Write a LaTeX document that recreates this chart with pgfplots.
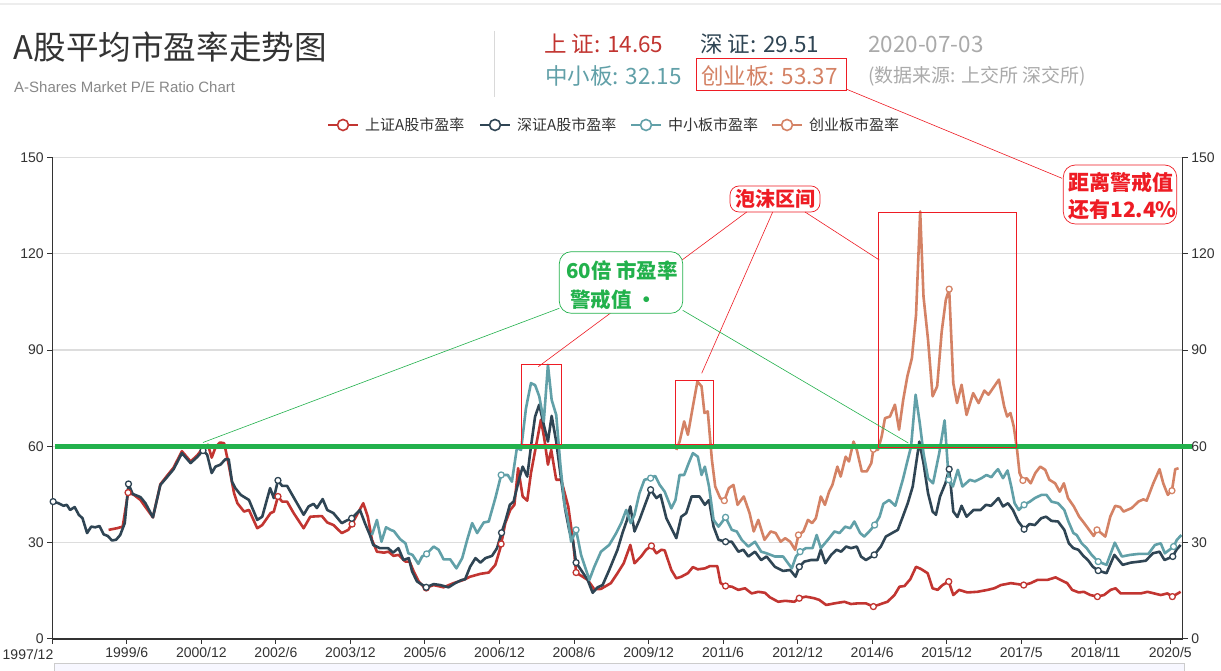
\documentclass[border=0pt]{standalone}
\usepackage{fontspec}
\setmainfont{Liberation Sans}
\newfontfamily\cjk{Noto Sans CJK SC}
\usepackage{pgfplots}
\pgfplotsset{compat=1.18}
\definecolor{cSH}{HTML}{C23531}
\definecolor{cSZ}{HTML}{2F4554}
\definecolor{cZX}{HTML}{61A0A8}
\definecolor{cCY}{HTML}{D48265}
\definecolor{cGreen}{HTML}{22B14C}
\definecolor{cRed}{HTML}{EE1C24}
\definecolor{cGrid}{HTML}{DDDDDD}
\definecolor{cAxis}{HTML}{333333}
\definecolor{cText}{HTML}{333333}
\definecolor{cGray}{HTML}{AAAAAA}
\definecolor{cSub}{HTML}{888888}
\newcommand{\fs}[1]{\fontsize{#1}{#1}\selectfont}
\pgfplotsset{
  mk/.style={only marks, mark=*, mark size=3pt, mark options={fill=white, line width=1.3pt}},
}
\begin{document}
\begin{tikzpicture}
\useasboundingbox (0,0) rectangle (1221pt,671pt);
\fill[white] (0,0) rectangle (1221pt,671pt);

\begin{axis}[
  at={(52.3pt,32pt)}, anchor=south west,
  scale only axis, width=1130.4pt, height=481.5pt,
  xmin=0, xmax=273, ymin=0, ymax=150,
  axis x line*=bottom, axis y line*=left,
  axis line style={cAxis, line width=1.2pt},
  ytick={0,30,60,90,120,150},
  xtick={0,18,...,270},
  xticklabels={,1999/6,2000/12,2002/6,2003/12,2005/6,2006/12,2008/6,2009/12,2011/6,2012/12,2014/6,2015/12,2017/5,2018/11,2020/5},
  ymajorgrids, grid style={cGrid, line width=1.3pt},
  tick align=outside, major tick length=5pt,
  tick style={cAxis, line width=1pt},
  /pgf/number format/assume math mode=true,
  ticklabel style={font=\fs{14}, text=cText},
  clip=false,
  every axis plot/.append style={line width=2.6pt, line join=round},
]
% 上证
\addplot[cSH, no marks] table[row sep=\\] {x y\\
13.6 34.0\\ 15.6 34.5\\ 17.0 35.0\\ 18.3 45.6\\ 19.7 44.9\\ 21.3 43.3\\ 22.5 41.1\\ 24.3 37.9\\ 26.1 48.2\\ 27.5 50.5\\ 29.3 53.4\\ 31.3 58.5\\ 33.4 55.3\\ 35.0 57.2\\ 36.4 59.5\\ 37.6 60.5\\ 38.5 56.5\\ 39.5 60.0\\ 40.5 61.2\\ 41.5 61.0\\ 42.5 55.0\\ 43.9 45.4\\ 44.7 42.3\\ 46.3 39.7\\ 47.5 40.2\\ 49.5 34.5\\ 50.7 35.5\\ 52.7 39.2\\ 53.5 39.7\\ 54.5 44.4\\ 55.5 42.8\\ 56.7 42.8\\ 58.3 39.2\\ 60.7 34.5\\ 62.3 38.1\\ 65.1 38.3\\ 66.4 36.3\\ 67.9 35.5\\ 69.9 33.0\\ 71.5 34.0\\ 72.7 36.6\\ 75.1 42.3\\ 76.2 38.1\\ 77.2 30.9\\ 78.4 27.2\\ 80.1 26.9\\ 81.2 27.2\\ 82.4 25.9\\ 83.6 26.2\\ 85.3 24.1\\ 86.3 24.1\\ 87.3 21.0\\ 88.5 17.9\\ 90.0 15.8\\ 92.1 16.8\\ 94.5 16.1\\ 96.9 17.4\\ 99.3 18.4\\ 100.9 19.4\\ 103.4 20.3\\ 105.4 20.7\\ 107.0 23.1\\ 108.2 28.3\\ 109.4 36.1\\ 110.6 40.2\\ 111.6 41.8\\ 112.5 53.2\\ 113.6 44.4\\ 114.7 43.1\\ 115.6 51.7\\ 116.8 60.0\\ 118.0 68.3\\ 118.8 62.6\\ 119.7 54.3\\ 120.5 58.9\\ 121.7 49.6\\ 122.9 49.6\\ 124.6 41.3\\ 125.8 30.3\\ 126.5 20.7\\ 128.1 19.4\\ 129.3 18.4\\ 130.9 15.5\\ 132.5 15.6\\ 134.9 17.4\\ 136.5 20.5\\ 138.0 23.6\\ 139.6 29.3\\ 140.6 23.6\\ 142.2 25.7\\ 143.4 27.8\\ 144.7 29.0\\ 145.9 26.7\\ 147.1 27.8\\ 147.9 27.6\\ 149.5 21.5\\ 150.7 18.9\\ 151.9 19.4\\ 153.5 20.5\\ 154.7 22.4\\ 155.9 21.7\\ 157.6 22.0\\ 158.8 22.7\\ 160.6 22.7\\ 161.4 17.4\\ 162.6 16.5\\ 164.1 16.3\\ 165.7 15.3\\ 167.3 15.8\\ 168.9 14.2\\ 170.5 14.7\\ 172.1 14.4\\ 173.3 13.0\\ 175.3 11.6\\ 177.0 11.9\\ 179.2 11.6\\ 180.4 12.7\\ 182.0 13.2\\ 184.0 12.7\\ 185.2 12.2\\ 186.9 10.6\\ 188.9 11.1\\ 191.3 11.6\\ 192.9 10.9\\ 194.5 11.1\\ 196.5 11.1\\ 198.3 10.1\\ 200.1 10.9\\ 201.7 11.6\\ 203.4 13.7\\ 204.6 16.3\\ 205.8 16.5\\ 207.2 18.6\\ 208.6 22.5\\ 209.8 21.8\\ 211.4 20.5\\ 212.6 15.8\\ 213.8 15.3\\ 215.0 16.8\\ 216.5 17.9\\ 217.6 13.7\\ 219.0 15.3\\ 221.0 14.5\\ 223.4 14.7\\ 225.9 15.3\\ 227.5 15.8\\ 229.1 16.8\\ 231.5 17.4\\ 233.1 17.1\\ 234.6 16.8\\ 236.3 17.4\\ 237.9 18.4\\ 240.3 18.4\\ 242.3 19.2\\ 243.5 18.4\\ 245.1 17.4\\ 246.3 15.3\\ 247.9 14.5\\ 249.1 14.7\\ 250.7 13.7\\ 252.4 13.2\\ 254.0 13.7\\ 255.6 15.3\\ 256.8 15.8\\ 258.0 14.2\\ 260.5 14.2\\ 262.9 14.2\\ 264.5 14.7\\ 266.1 14.2\\ 267.7 13.7\\ 269.3 14.2\\ 270.5 13.2\\ 272.5 14.7\\
};
\addplot[cSH, mk] table[row sep=\\] {x y\\
18.3 45.6\\ 36.4 59.5\\ 54.5 44.4\\ 72.4 35.8\\ 90.3 15.9\\ 108.4 29.6\\ 126.5 20.7\\ 144.7 29.0\\ 162.6 16.5\\ 180.4 12.7\\ 198.3 10.1\\ 216.5 17.9\\ 234.6 16.8\\ 252.4 13.2\\ 270.5 13.2\\
};
% 深证
\addplot[cSZ, no marks] table[row sep=\\] {x y\\
0.2 42.8\\ 1.5 42.3\\ 2.7 41.5\\ 3.5 41.8\\ 4.3 40.2\\ 5.4 41.1\\ 6.4 38.7\\ 7.3 37.6\\ 8.4 33.0\\ 9.4 35.0\\ 10.4 34.8\\ 11.4 35.2\\ 12.4 32.6\\ 13.4 32.1\\ 14.4 30.7\\ 15.4 30.9\\ 16.4 32.4\\ 17.5 36.1\\ 18.4 48.3\\ 19.4 45.2\\ 21.3 44.2\\ 22.5 42.3\\ 24.3 37.9\\ 26.1 48.0\\ 27.5 50.1\\ 29.3 52.9\\ 31.3 57.9\\ 33.4 54.8\\ 35.0 56.7\\ 36.4 58.7\\ 37.4 57.4\\ 38.5 51.7\\ 39.4 53.7\\ 40.6 54.3\\ 41.8 56.0\\ 42.6 56.0\\ 43.4 49.0\\ 44.2 47.0\\ 45.5 44.9\\ 47.5 43.3\\ 49.5 37.1\\ 50.7 38.1\\ 52.6 47.0\\ 53.5 43.9\\ 54.5 49.4\\ 55.5 47.7\\ 56.7 47.7\\ 59.1 42.3\\ 60.7 38.7\\ 61.9 41.3\\ 63.1 42.1\\ 63.9 40.8\\ 65.3 43.6\\ 66.4 40.2\\ 67.9 39.2\\ 69.9 36.1\\ 71.1 36.9\\ 72.3 37.6\\ 74.3 40.2\\ 75.5 36.1\\ 76.7 32.4\\ 77.5 29.3\\ 79.1 28.3\\ 81.1 28.3\\ 82.3 26.9\\ 83.6 28.3\\ 84.8 24.6\\ 86.1 25.2\\ 86.9 21.0\\ 88.1 17.9\\ 90.3 16.1\\ 92.1 17.1\\ 93.7 16.8\\ 95.7 16.1\\ 97.3 17.4\\ 98.9 18.4\\ 99.7 18.6\\ 100.9 22.5\\ 102.2 25.2\\ 103.4 23.8\\ 104.6 25.2\\ 106.2 25.9\\ 107.4 28.3\\ 108.5 33.1\\ 109.5 37.1\\ 110.5 41.8\\ 111.4 42.8\\ 112.8 50.1\\ 113.6 53.7\\ 114.7 50.6\\ 115.6 60.0\\ 116.6 69.3\\ 117.6 73.0\\ 118.7 66.7\\ 119.7 61.5\\ 120.6 69.5\\ 121.7 61.5\\ 122.9 49.6\\ 123.9 40.2\\ 124.9 33.5\\ 125.7 30.9\\ 126.5 23.8\\ 127.7 21.5\\ 129.3 18.4\\ 130.5 14.4\\ 131.7 16.1\\ 132.9 16.8\\ 134.5 21.5\\ 136.5 27.8\\ 137.7 33.0\\ 138.8 37.1\\ 139.6 41.3\\ 140.6 33.5\\ 141.8 37.1\\ 143.0 41.3\\ 144.5 46.5\\ 145.9 43.9\\ 146.9 44.9\\ 148.3 37.6\\ 149.9 33.5\\ 150.7 31.4\\ 151.9 38.1\\ 153.1 39.2\\ 154.4 44.4\\ 156.3 44.4\\ 157.6 41.8\\ 158.6 43.3\\ 159.7 35.0\\ 160.9 30.9\\ 162.6 30.3\\ 164.1 30.3\\ 165.7 27.2\\ 166.9 27.8\\ 168.1 25.7\\ 169.7 27.2\\ 171.2 24.6\\ 172.5 25.7\\ 174.5 22.5\\ 176.5 21.2\\ 178.2 21.5\\ 179.5 19.4\\ 180.4 22.5\\ 181.6 24.1\\ 183.2 24.6\\ 184.8 24.6\\ 185.6 27.8\\ 186.7 23.6\\ 188.1 26.2\\ 189.4 27.8\\ 190.5 27.2\\ 191.7 28.8\\ 192.9 28.3\\ 194.3 28.8\\ 195.3 25.7\\ 196.5 24.6\\ 198.5 26.2\\ 200.1 28.8\\ 201.3 31.9\\ 202.8 33.0\\ 204.2 34.0\\ 205.4 38.1\\ 206.6 42.3\\ 207.8 47.5\\ 209.4 61.5\\ 210.4 54.8\\ 211.5 45.4\\ 212.6 39.7\\ 213.4 38.7\\ 214.4 44.4\\ 215.7 48.5\\ 216.6 52.9\\ 217.6 39.7\\ 218.6 38.0\\ 219.6 41.5\\ 220.8 38.1\\ 222.5 40.2\\ 224.2 40.2\\ 225.5 41.8\\ 226.7 41.5\\ 228.5 43.9\\ 229.6 41.3\\ 230.8 42.3\\ 232.0 40.2\\ 233.3 36.6\\ 234.7 34.2\\ 236.0 35.8\\ 237.3 35.5\\ 238.8 37.6\\ 240.0 38.1\\ 241.3 36.8\\ 242.9 36.6\\ 244.4 34.0\\ 245.5 29.8\\ 246.6 28.3\\ 247.8 27.8\\ 249.0 25.9\\ 250.1 24.6\\ 251.3 22.5\\ 252.6 21.3\\ 254.6 20.5\\ 256.5 26.2\\ 258.5 23.1\\ 260.5 23.8\\ 262.5 24.1\\ 264.1 24.4\\ 265.8 26.7\\ 267.4 27.2\\ 268.6 24.6\\ 270.6 25.7\\ 271.5 27.8\\ 272.5 29.3\\
};
\addplot[cSZ, mk] table[row sep=\\] {x y\\
0.2 42.8\\ 18.4 48.3\\ 36.4 58.7\\ 54.5 49.4\\ 72.3 37.6\\ 90.3 16.1\\ 108.5 33.1\\ 126.5 23.8\\ 144.5 46.5\\ 162.6 30.3\\ 180.4 22.5\\ 198.5 26.2\\ 216.6 52.9\\ 234.7 34.2\\ 252.6 21.3\\ 270.6 25.7\\
};
% 中小板
\addplot[cZX, no marks] table[row sep=\\] {x y\\
77.2 32.4\\ 78.4 37.1\\ 79.5 30.3\\ 80.6 34.8\\ 81.7 34.0\\ 82.5 33.6\\ 84.0 31.1\\ 85.3 29.8\\ 86.0 26.7\\ 87.0 26.2\\ 88.4 23.4\\ 89.3 25.7\\ 90.4 26.5\\ 92.1 28.8\\ 93.3 27.8\\ 94.5 24.8\\ 96.1 24.8\\ 97.6 22.0\\ 99.0 25.2\\ 100.2 30.9\\ 101.4 36.1\\ 102.6 33.0\\ 104.2 36.3\\ 105.4 36.6\\ 107.0 43.9\\ 108.4 51.1\\ 110.0 51.1\\ 111.0 49.0\\ 112.2 59.5\\ 113.2 58.9\\ 114.4 71.9\\ 115.6 79.7\\ 116.6 79.1\\ 117.6 75.6\\ 118.7 67.8\\ 119.7 85.4\\ 120.6 74.5\\ 121.7 69.8\\ 122.7 54.3\\ 123.7 41.8\\ 124.4 38.1\\ 125.3 30.3\\ 126.5 34.0\\ 127.7 26.2\\ 129.7 18.4\\ 130.9 22.5\\ 132.5 27.2\\ 134.5 29.3\\ 136.2 33.0\\ 137.4 36.1\\ 138.6 40.2\\ 139.7 36.1\\ 140.6 38.7\\ 141.8 45.4\\ 143.0 49.6\\ 144.5 50.1\\ 145.6 50.8\\ 146.7 48.0\\ 147.9 45.9\\ 149.5 40.7\\ 150.5 43.3\\ 151.5 51.1\\ 152.6 51.1\\ 153.7 54.8\\ 154.7 57.9\\ 155.9 56.8\\ 156.8 51.1\\ 157.6 53.7\\ 158.6 47.5\\ 159.7 37.1\\ 160.9 35.0\\ 162.6 37.9\\ 164.1 34.0\\ 165.3 33.5\\ 166.5 30.9\\ 168.1 28.8\\ 169.7 30.3\\ 171.2 27.2\\ 172.5 26.7\\ 174.5 25.7\\ 176.5 25.7\\ 178.6 22.0\\ 179.6 25.7\\ 180.6 27.2\\ 182.0 28.3\\ 183.6 28.3\\ 184.6 32.4\\ 185.6 28.3\\ 187.3 30.9\\ 188.9 33.5\\ 190.1 33.0\\ 191.5 35.0\\ 192.7 34.5\\ 193.7 36.6\\ 195.1 33.0\\ 196.1 31.9\\ 197.3 33.5\\ 198.6 35.5\\ 199.8 38.1\\ 200.7 42.1\\ 202.1 43.3\\ 203.6 41.5\\ 205.4 49.6\\ 206.4 54.8\\ 207.4 60.0\\ 208.5 76.1\\ 209.5 67.3\\ 210.4 57.9\\ 211.5 50.1\\ 212.7 48.5\\ 214.2 57.9\\ 215.5 68.1\\ 216.5 49.6\\ 217.5 47.5\\ 218.7 52.7\\ 219.8 47.5\\ 221.6 49.6\\ 222.8 49.1\\ 224.4 50.1\\ 225.6 51.1\\ 226.8 50.4\\ 227.6 51.8\\ 228.4 52.9\\ 229.6 50.1\\ 230.7 52.5\\ 231.6 47.5\\ 232.4 42.3\\ 233.4 40.2\\ 234.7 41.8\\ 236.1 42.8\\ 237.3 43.9\\ 238.9 44.9\\ 240.1 44.9\\ 241.3 42.8\\ 242.9 42.3\\ 244.4 40.2\\ 245.4 36.6\\ 246.6 33.0\\ 247.4 32.4\\ 248.6 29.8\\ 249.8 28.3\\ 251.0 26.2\\ 252.6 24.1\\ 254.6 23.1\\ 256.6 30.0\\ 258.3 25.7\\ 260.3 26.2\\ 262.3 26.5\\ 264.7 26.5\\ 266.3 29.3\\ 267.7 29.8\\ 268.7 26.7\\ 270.8 28.8\\ 271.6 30.9\\ 272.7 32.4\\
};
\addplot[cZX, mk] table[row sep=\\] {x y\\
90.4 26.5\\ 108.4 51.1\\ 126.5 34.0\\ 144.5 50.1\\ 162.6 37.9\\ 180.6 27.2\\ 198.6 35.5\\ 216.5 49.6\\ 234.7 41.8\\ 252.6 24.1\\ 270.8 28.8\\
};
% 创业板
\addplot[cCY, no marks] table[row sep=\\] {x y\\
150.7 58.9\\ 151.5 61.5\\ 152.6 67.8\\ 153.5 63.6\\ 154.7 72.4\\ 155.8 80.2\\ 156.8 78.7\\ 157.5 70.4\\ 158.3 70.9\\ 159.3 55.8\\ 160.1 47.5\\ 161.3 43.9\\ 162.3 43.1\\ 163.4 47.0\\ 164.5 48.0\\ 165.5 41.8\\ 167.0 44.4\\ 168.4 39.2\\ 169.4 33.5\\ 170.5 37.1\\ 172.0 30.9\\ 173.5 33.5\\ 174.7 33.0\\ 175.9 30.3\\ 177.0 31.4\\ 178.2 30.3\\ 179.4 27.8\\ 180.2 32.4\\ 181.4 33.5\\ 182.5 37.1\\ 183.5 36.1\\ 184.4 37.6\\ 185.6 44.4\\ 186.6 41.8\\ 187.6 45.9\\ 188.4 48.0\\ 189.6 53.7\\ 190.4 50.6\\ 191.6 56.8\\ 192.4 55.3\\ 193.5 61.5\\ 194.3 58.9\\ 195.5 52.2\\ 196.7 52.2\\ 197.8 54.8\\ 198.3 59.1\\ 199.4 58.9\\ 200.3 63.1\\ 201.1 68.8\\ 202.3 69.3\\ 203.5 73.0\\ 204.5 65.2\\ 205.5 74.5\\ 206.5 81.8\\ 207.6 87.5\\ 208.6 101.0\\ 209.6 133.2\\ 210.4 106.7\\ 211.5 93.2\\ 212.6 75.6\\ 213.7 78.7\\ 214.8 95.8\\ 215.8 105.7\\ 216.6 109.0\\ 217.6 79.7\\ 218.5 73.5\\ 219.6 79.2\\ 220.8 69.8\\ 222.4 76.6\\ 223.7 73.5\\ 225.1 77.4\\ 226.1 76.1\\ 228.6 80.8\\ 229.9 72.4\\ 230.6 69.3\\ 231.4 70.4\\ 232.2 66.2\\ 233.0 58.9\\ 233.6 51.7\\ 234.4 49.4\\ 235.3 50.1\\ 236.3 48.5\\ 237.4 51.7\\ 238.6 53.7\\ 239.8 52.7\\ 240.8 49.6\\ 242.2 48.5\\ 243.3 45.9\\ 244.3 48.5\\ 245.3 43.9\\ 246.7 41.3\\ 248.0 38.1\\ 249.2 36.1\\ 250.4 34.0\\ 251.5 32.1\\ 252.3 34.0\\ 253.3 33.0\\ 254.3 31.9\\ 255.5 38.1\\ 256.7 41.5\\ 257.9 41.1\\ 258.7 39.7\\ 260.7 40.8\\ 262.3 42.8\\ 263.5 43.5\\ 264.3 43.1\\ 265.9 48.5\\ 267.4 52.9\\ 268.3 48.5\\ 269.4 44.9\\ 270.4 46.2\\ 271.2 52.9\\ 272.0 53.2\\
};
\addplot[cCY, mk] table[row sep=\\] {x y\\
162.3 43.1\\ 180.2 32.4\\ 198.3 59.1\\ 216.6 109.0\\ 234.4 49.4\\ 252.3 34.0\\ 270.4 46.2\\
};
\end{axis}

\begin{axis}[
  at={(52.3pt,32pt)}, anchor=south west,
  scale only axis, width=1130.4pt, height=481.5pt,
  xmin=0, xmax=273, ymin=0, ymax=150,
  axis y line*=right, axis x line=none,
  axis line style={cAxis, line width=1.2pt},
  ytick={0,30,60,90,120,150},
  tick align=outside, major tick length=5pt,
  tick style={cAxis, line width=1pt},
  /pgf/number format/assume math mode=true,
  ticklabel style={font=\fs{14}, text=cText},
]
\end{axis}

\begin{scope}[x=1pt,y=-1pt,shift={(0pt,671pt)}]
  % top strip
  \draw[black!7, line width=2pt] (0,4) -- (1221,4);
  % first x label
  \node[text=cText, font=\fs{14}] at (28,655) {1997/12};
  % data zoom band
  \draw[fill=black!4!blue!3, draw=black!20] (54,663) rectangle (1184,690);
  % green threshold line
  \draw[cGreen, line width=4.5pt] (55,446.4) -- (1191.7,446.4);
  % title
  \node[anchor=west, inner sep=0pt, text=cText] at (13.5,47) {\cjk\fs{32.6}A股平均市盈率走势图};
  \node[anchor=west, inner sep=0pt, text=cSub] at (14,87) {\fs{15}A-Shares Market P/E Ratio Chart};
  \draw[black!15, line width=1pt] (494,31) -- (494,97);
  % header values
  \node[anchor=west, inner sep=0pt, text=cSH] at (544,44) {\cjk\fs{22.5}上 证: 14.65};
  \node[anchor=west, inner sep=0pt, text=cSZ] at (700,44) {\cjk\fs{22.5}深 证: 29.51};
  \node[anchor=west, inner sep=0pt, text=cGray] at (868,44) {\cjk\fs{22.5}2020-07-03};
  \node[anchor=west, inner sep=0pt, text=cZX] at (545,76) {\cjk\fs{22.5}中小板: 32.15};
  \node[anchor=west, inner sep=0pt, text=cCY] at (701,76) {\cjk\fs{22.5}创业板: 53.37};
  \node[anchor=west, inner sep=0pt, text=cGray] at (868,76) {\cjk\fs{19}(数据来源: 上交所 深交所)};
  \draw[cRed, line width=0.9pt] (696,58.5) rectangle (846,90.5);
  % legend
  \foreach \xa/\col/\lab in {328/cSH/上证A股市盈率, 480/cSZ/深证A股市盈率, 631/cZX/中小板市盈率, 772/cCY/创业板市盈率}{
    \draw[\col, line width=2pt] (\xa,125) -- ({\xa+30},125);
    \draw[\col, fill=white, line width=1.6pt] ({\xa+15},125) circle (5.5pt);
    \node[anchor=west, inner sep=0pt, text=cText] at ({\xa+37},125) {\cjk\fs{15}\lab};
  }
  % bubble rectangles
  \draw[cRed, line width=0.9pt] (521.7,364.3) rectangle (561.7,444.3);
  \draw[cRed, line width=0.9pt] (675.3,380.3) rectangle (713.3,444.3);
  \draw[cRed, line width=0.9pt] (878.3,212.3) rectangle (1016.7,447.7);
  % bubble callout
  \draw[cRed, line width=0.7pt, fill=white, rounded corners=9pt] (730,186) rectangle (820,212);
  \node[text=cRed] at (775,199) {\cjk\bfseries\fs{20}泡沫区间};
  \draw[cRed, line width=0.6pt] (746.7,212) -- (538.3,366.7);
  \draw[cRed, line width=0.6pt] (772.7,212) -- (701.7,373.3);
  \draw[cRed, line width=0.6pt] (805,212) -- (879.3,260);
  % green callout
  \draw[cGreen, line width=0.7pt, fill=white, rounded corners=12pt] (559.3,251.7) rectangle (682.7,313.3);
  \node[anchor=west, inner sep=0pt, text=cGreen] at (566,271) {\cjk\bfseries\fs{20.5}60倍 市盈率};
  \node[anchor=west, inner sep=0pt, text=cGreen] at (570,300) {\cjk\bfseries\fs{20.5}警戒值 ·};
  \draw[cGreen, line width=0.6pt] (559.3,308.3) -- (203,442.5);
  \draw[cGreen, line width=0.6pt] (682.7,310.3) -- (908.3,443);
  % distance callout
  \draw[cRed, line width=0.6pt] (846,89) -- (1062,178.3);
  \draw[cRed, line width=0.7pt, fill=white, rounded corners=12pt] (1063.3,165) rectangle (1176.7,224);
  \node[anchor=west, inner sep=0pt, text=cRed] at (1068,182) {\cjk\bfseries\fs{21}距离警戒值};
  \node[anchor=west, inner sep=0pt, text=cRed] at (1068,210) {\cjk\bfseries\fs{21}还有12.4\%};
\end{scope}
\end{tikzpicture}
\end{document}
